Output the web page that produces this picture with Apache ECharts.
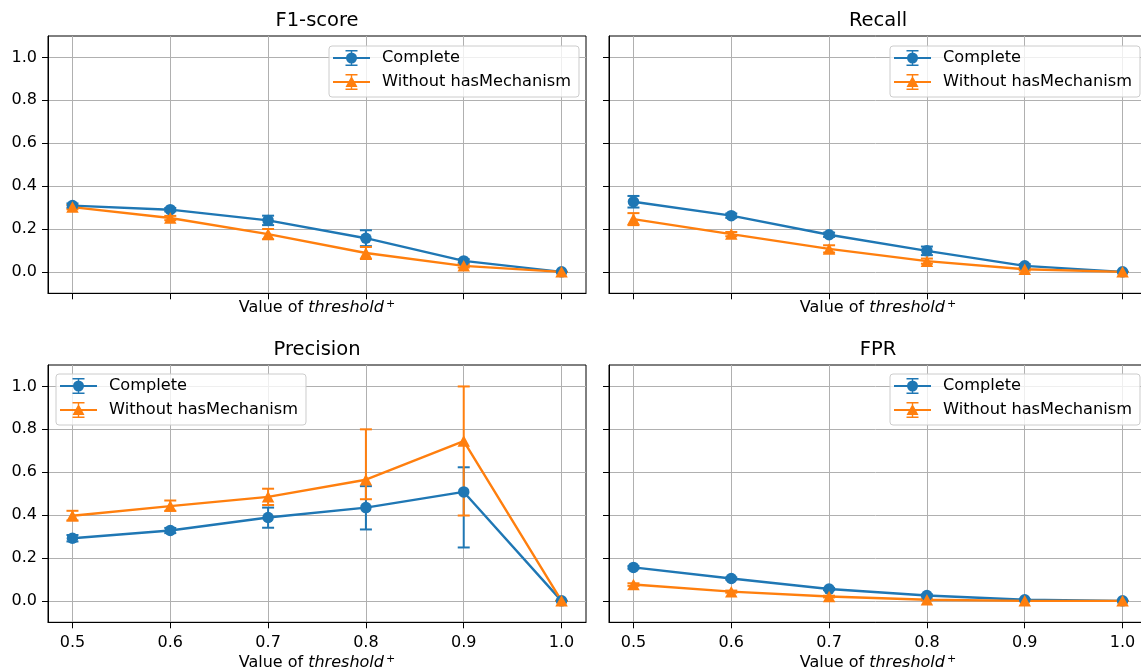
<!DOCTYPE html>
<html lang="en">
<head>
<meta charset="UTF-8">
<title>Threshold comparison</title>
<script src="https://cdn.jsdelivr.net/npm/echarts@6.0.0/dist/echarts.min.js"></script>
</head>
<body style="margin:0">
<div id="main" style="width:1141px;height:671px"></div>
<script>
// x values and tick labels
var thresholds = [0.5, 0.6, 0.7, 0.8, 0.9, 1.0];
var xTicks = [0.5, 0.6, 0.7, 0.8, 0.9, 1.0];
var yTicks = [0.0, 0.2, 0.4, 0.6, 0.8, 1.0];
var panelTitles = ['F1-score', 'Recall', 'Precision', 'FPR'];
var seriesNames = ['Complete', 'Without hasMechanism'];

// F1-score
var f1Complete     = [0.309, 0.290, 0.240, 0.157, 0.051, 0.0];
var f1CompleteLow  = [0.299, 0.282, 0.218, 0.120, 0.043, 0.0];
var f1CompleteHigh = [0.319, 0.298, 0.262, 0.194, 0.059, 0.0];
var f1Without      = [0.302, 0.251, 0.176, 0.088, 0.028, 0.0];
var f1WithoutLow   = [0.292, 0.241, 0.152, 0.060, 0.020, 0.0];
var f1WithoutHigh  = [0.312, 0.261, 0.200, 0.116, 0.036, 0.0];

// Recall
var recComplete     = [0.327, 0.262, 0.173, 0.098, 0.028, 0.0];
var recCompleteLow  = [0.300, 0.252, 0.163, 0.078, 0.020, 0.0];
var recCompleteHigh = [0.354, 0.272, 0.183, 0.118, 0.036, 0.0];
var recWithout      = [0.246, 0.176, 0.107, 0.050, 0.012, 0.0];
var recWithoutLow   = [0.218, 0.166, 0.090, 0.038, 0.006, 0.0];
var recWithoutHigh  = [0.274, 0.186, 0.124, 0.062, 0.018, 0.0];

// Precision
var preComplete     = [0.292, 0.328, 0.389, 0.435, 0.508, 0.0];
var preCompleteLow  = [0.277, 0.316, 0.341, 0.333, 0.249, 0.0];
var preCompleteHigh = [0.307, 0.340, 0.435, 0.535, 0.623, 0.0];
var preWithout      = [0.397, 0.442, 0.485, 0.565, 0.745, 0.0];
var preWithoutLow   = [0.375, 0.420, 0.447, 0.474, 0.398, 0.0];
var preWithoutHigh  = [0.420, 0.468, 0.523, 0.800, 1.000, 0.0];

// FPR
var fprComplete     = [0.156, 0.104, 0.055, 0.025, 0.005, 0.0];
var fprCompleteLow  = [0.150, 0.099, 0.050, 0.020, 0.002, 0.0];
var fprCompleteHigh = [0.162, 0.109, 0.060, 0.030, 0.008, 0.0];
var fprWithout      = [0.076, 0.043, 0.020, 0.005, 0.000, 0.0];
var fprWithoutLow   = [0.070, 0.038, 0.016, 0.002, 0.000, 0.0];
var fprWithoutHigh  = [0.082, 0.048, 0.024, 0.008, 0.000, 0.0];

var panels = [
    [[f1Complete, f1CompleteLow, f1CompleteHigh], [f1Without, f1WithoutLow, f1WithoutHigh]],
    [[recComplete, recCompleteLow, recCompleteHigh], [recWithout, recWithoutLow, recWithoutHigh]],
    [[preComplete, preCompleteLow, preCompleteHigh], [preWithout, preWithoutLow, preWithoutHigh]],
    [[fprComplete, fprCompleteLow, fprCompleteHigh], [fprWithout, fprWithoutLow, fprWithoutHigh]]
];

var FONT = 'DejaVu Sans';
var colors = ['#1f77b4', '#ff7f0e'];
var symbols = ['circle', 'triangle'];
var gridPos = [[48, 36], [609, 36], [48, 365], [609, 365]];
var legendPos = [[329, 46], [890, 46], [56, 374], [890, 374]];

var iconC = 'path://M0 7H37V9H0Z M17.8 0H19.2V16H17.8Z M12.5 0H24.5V1.5H12.5Z M12.5 14.5H24.5V16H12.5Z M13 8A5.5 5.5 0 1 1 24 8A5.5 5.5 0 1 1 13 8Z M44 8';
var iconW = 'path://M0 7H37V9H0Z M17.8 0H19.2V16H17.8Z M12.5 0H24.5V1.5H12.5Z M12.5 14.5H24.5V16H12.5Z M18.5 2L24.5 13L12.5 13Z M44 8';

function errRender(color) {
    return function (params, api) {
        var x = api.value(0);
        var lo = api.coord([x, api.value(1)]);
        var hi = api.coord([x, api.value(2)]);
        var cw = 6;
        var st = {stroke: color, lineWidth: 2};
        return {
            type: 'group',
            children: [
                {type: 'line', shape: {x1: lo[0], y1: lo[1], x2: hi[0], y2: hi[1]}, style: st},
                {type: 'line', shape: {x1: hi[0] - cw, y1: hi[1], x2: hi[0] + cw, y2: hi[1]}, style: st},
                {type: 'line', shape: {x1: lo[0] - cw, y1: lo[1], x2: lo[0] + cw, y2: lo[1]}, style: st}
            ]
        };
    };
}

var grids = [], xAxes = [], yAxes = [], titles = [], legends = [], series = [];

for (var p = 0; p < 4; p++) {
    var bottomRow = p >= 2;
    var leftCol = p % 2 === 0;
    grids.push({
        left: gridPos[p][0], top: gridPos[p][1], width: 538, height: 257.3,
        show: true, borderColor: '#000', borderWidth: 1, backgroundColor: 'transparent',
        outerBoundsMode: 'none', containLabel: false
    });
    xAxes.push({
        gridIndex: p, type: 'value', min: 0.475, max: 1.025,
        axisLine: {show: true, onZero: false, lineStyle: {color: '#000', width: 1}},
        axisTick: {show: true, length: 6, customValues: xTicks, lineStyle: {color: '#000', width: 1}},
        axisLabel: {show: bottomRow, customValues: xTicks, margin: 13, color: '#000',
            fontFamily: FONT, fontSize: 16, formatter: function (v) { return v.toFixed(1); }},
        splitLine: {show: true, lineStyle: {color: '#b0b0b0', width: 1}},
        name: '{n|Value of }{i|threshold}{s|\u2009+}',
        nameLocation: 'middle', nameGap: bottomRow ? 31 : 5,
        nameTextStyle: {
            color: '#000', fontFamily: FONT, fontSize: 16,
            rich: {
                n: {fontFamily: FONT, fontSize: 16, lineHeight: 20, color: '#000'},
                i: {fontFamily: FONT, fontSize: 16, lineHeight: 20, fontStyle: 'italic', color: '#000'},
                s: {fontFamily: FONT, fontSize: 11, lineHeight: 12, verticalAlign: 'top', color: '#000'}
            }
        }
    });
    yAxes.push({
        gridIndex: p, type: 'value', min: -0.1, max: 1.1,
        axisLine: {show: true, onZero: false, lineStyle: {color: '#000', width: 1}},
        axisTick: {show: true, length: 6, customValues: yTicks, lineStyle: {color: '#000', width: 1}},
        axisLabel: {show: leftCol, customValues: yTicks, margin: 11, color: '#000',
            fontFamily: FONT, fontSize: 16, formatter: function (v) { return v.toFixed(1); }},
        splitLine: {show: true, lineStyle: {color: '#b0b0b0', width: 1}}
    });
    titles.push({
        text: panelTitles[p], left: gridPos[p][0] + 269, top: gridPos[p][1] - 25, textAlign: 'center',
        padding: 0,
        textStyle: {fontFamily: FONT, fontSize: 19.5, fontWeight: 'normal', color: '#000'}
    });
    legends.push({
        left: legendPos[p][0], top: legendPos[p][1], orient: 'vertical',
        padding: [3, 8, 6, 4], itemGap: 6, itemWidth: 44, itemHeight: 16,
        backgroundColor: 'rgba(255,255,255,0.8)', borderColor: '#cccccc', borderWidth: 1, borderRadius: 3,
        selectedMode: false,
        itemStyle: {borderWidth: 0},
        textStyle: {fontFamily: FONT, fontSize: 16.2, lineHeight: 18, color: '#000'},
        data: [{name: seriesNames[0], icon: iconC}, {name: seriesNames[1], icon: iconW}]
    });
    for (var s = 0; s < 2; s++) {
        var vals = panels[p][s];
        var errData = thresholds.map(function (t, k) { return [t, vals[1][k], vals[2][k]]; });
        var lineData = thresholds.map(function (t, k) { return [t, vals[0][k]]; });
        series.push({
            type: 'custom', name: seriesNames[s] + ' err', xAxisIndex: p, yAxisIndex: p,
            renderItem: errRender(colors[s]), data: errData,
            encode: {x: 0, y: [1, 2]}, itemStyle: {color: colors[s]}, silent: true
        });
        series.push({
            type: 'line', name: seriesNames[s], xAxisIndex: p, yAxisIndex: p,
            data: lineData, symbol: symbols[s], symbolSize: s === 0 ? 11.5 : [12.5, 11.5],
            lineStyle: {color: colors[s], width: 2.4}, itemStyle: {color: colors[s], borderWidth: 0},
            emphasis: {disabled: true}, silent: true
        });
    }
}

var myChart = echarts.init(document.getElementById('main'));
myChart.setOption({
    animation: false,
    title: titles,
    legend: legends,
    grid: grids,
    xAxis: xAxes,
    yAxis: yAxes,
    series: series
});
</script>
</body>
</html>
